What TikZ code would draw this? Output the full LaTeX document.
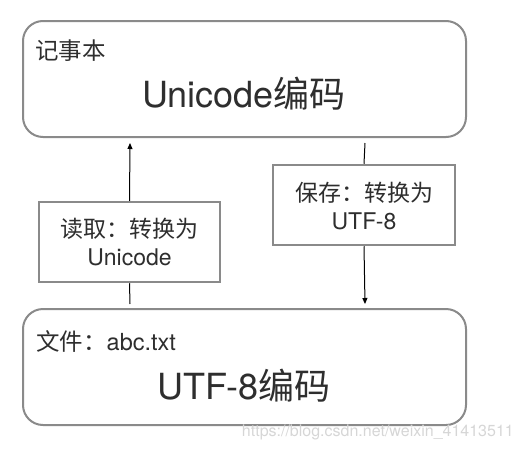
\documentclass[tikz,border=0pt]{standalone}
\usepackage{fontspec}
\setmainfont{TeX Gyre Heros}
\newfontfamily\cjk{Noto Sans CJK SC}
\usetikzlibrary{arrows.meta}
\definecolor{boxgray}{HTML}{8A8A8A}
\definecolor{wmgray}{HTML}{D6D6D6}
\definecolor{txtgray}{HTML}{2E2E2E}
\tikzset{
  bigbox/.style={draw=boxgray, line width=2pt, rounded corners=20pt},
  labbox/.style={draw=boxgray, line width=2.5pt, fill=white, inner sep=0pt},
  conn/.style={draw=black, line width=1pt},
  arr/.style={conn, -{Triangle[length=6pt,width=5pt]}},
  smalltxt/.style={font=\fontsize{23.5}{25}\selectfont, text=txtgray, anchor=west, inner sep=0pt},
  bigtxt/.style={font=\fontsize{36}{40}\selectfont, text=txtgray, inner sep=0pt},
  labtxt/.style={font=\fontsize{23}{28}\selectfont, text=txtgray, align=center, inner sep=0pt},
}
\begin{document}
\begin{tikzpicture}[x=1pt,y=-1pt]
\useasboundingbox (0,0) rectangle (522,450);
% big boxes
\draw[bigbox] (23,21) rectangle (466,137);
\draw[bigbox] (23,309) rectangle (466,425);
\node[smalltxt] (t1) at (35,51) {\cjk 记事本};
\node[bigtxt] (t2) at (244,94) {Unicode{\cjk 编码}};
\node[smalltxt] (b1) at (36,341) {{\cjk 文件：}abc.txt};
\node[bigtxt] (b2) at (244,386) {UTF-8{\cjk 编码}};
% label boxes
\node[labbox, minimum width=181pt, minimum height=80pt] (rd) at (129.5,242) {};
\node[labtxt] (rdt) at (129.5,242) {{\cjk 读取：转换为}\\Unicode};
\node[labbox, minimum width=182pt, minimum height=80pt] (sv) at (364,205) {};
\node[labtxt] (svt) at (364,206) {{\cjk 保存：转换为}\\UTF-8};
% connectors
\coordinate (rdA) at (130,143);
\coordinate (rdB) at (130,304);
\coordinate (svA) at (365,143);
\coordinate (svB) at (365,304);
\draw[conn] (rdB) -- (rd.south);
\draw[arr] (rd.north) -- (rdA);
\draw[conn] (svA) -- (sv.north);
\draw[arr] (sv.south) -- (svB);
% watermark
\node[font=\fontsize{16}{18}\selectfont, text=wmgray, anchor=east, inner sep=0pt] (wm) at (514,432) {https://blog.csdn.net/weixin\_41413511};
\end{tikzpicture}
\end{document}
